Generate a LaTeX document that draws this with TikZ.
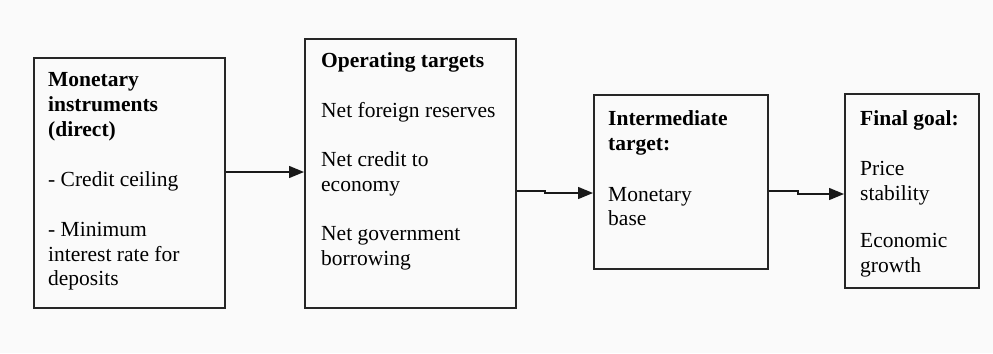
\documentclass[tikz,border=0pt]{standalone}
\usepackage{fontspec}
\setmainfont{Liberation Serif}
\usetikzlibrary{arrows.meta}
\tikzset{
  box/.style={draw=black!85, line width=1.6bp, rectangle, inner sep=0pt},
  txt/.style={anchor=base west, inner sep=0pt, font=\fontsize{21.5bp}{24.7bp}\selectfont},
  hd/.style={txt, font=\fontsize{21.5bp}{24.7bp}\selectfont\bfseries},
  conn/.style={draw=black!90, line width=1.4bp, -{Triangle[length=15bp,width=12bp]}},
}
\begin{document}
\begin{tikzpicture}[x=1bp,y=-1bp]
\useasboundingbox[fill=black!2] (0,0) rectangle (993,353);
% boxes
\node[box, minimum width=191bp, minimum height=250bp, anchor=north west] (b1) at (33,57) {};
\node[box, minimum width=211bp, minimum height=269bp, anchor=north west] (b2) at (304,38) {};
\node[box, minimum width=174bp, minimum height=174bp, anchor=north west] (b3) at (593,94) {};
\node[box, minimum width=134bp, minimum height=194bp, anchor=north west] (b4) at (844,93) {};
% box 1 text
\foreach \t/\y [count=\i] in {{Monetary}/86,{instruments}/111,{(direct)}/136}
  \node[hd] (h1-\i) at (48,\y) {\t};
\foreach \t/\y [count=\i] in {{- Credit ceiling}/186,{- Minimum}/236,{interest rate for}/261,{deposits}/285}
  \node[txt] (t1-\i) at (48,\y) {\t};
% box 2 text
\node[hd] (h2-1) at (321,67) {Operating targets};
\foreach \t/\y [count=\i] in {{Net foreign reserves}/117,{Net credit to}/166,{economy}/191,{Net government}/240,{borrowing}/265}
  \node[txt] (t2-\i) at (321,\y) {\t};
% box 3 text
\foreach \t/\y [count=\i] in {{Intermediate}/125,{target:}/150}
  \node[hd] (h3-\i) at (608,\y) {\t};
\foreach \t/\y [count=\i] in {{Monetary}/201,{base}/225}
  \node[txt] (t3-\i) at (608,\y) {\t};
% box 4 text
\node[hd] (h4-1) at (860,125) {Final goal:};
\foreach \t/\y [count=\i] in {{Price}/175,{stability}/200,{Economic}/247,{growth}/272}
  \node[txt] (t4-\i) at (860,\y) {\t};
% connectors
\coordinate (k2) at (545,191);
\coordinate (k3) at (798,191);
\draw[conn] (b1.east |- 0,172) -- (b2.west |- 0,172);
\draw[conn] (b2.east |- k2) -- (k2) -- ++(0,2) -- (b3.west |- 0,193);
\draw[conn] (b3.east |- k3) -- (k3) -- ++(0,3) -- (b4.west |- 0,194);
\end{tikzpicture}
\end{document}
